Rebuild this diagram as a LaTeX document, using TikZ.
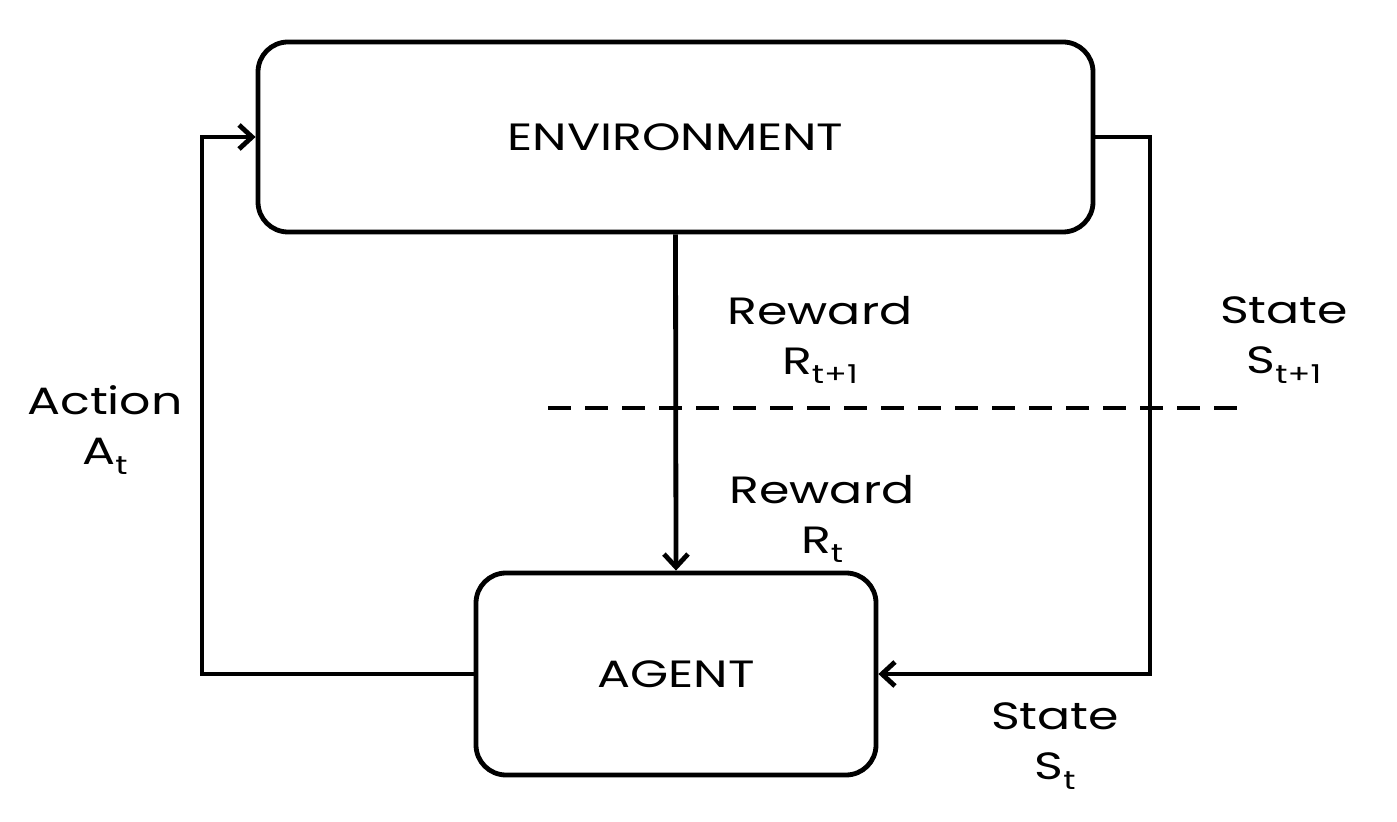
\documentclass[tikz,border=0pt]{standalone}
\usepackage{fontspec}
\setmainfont{Poppins}[FakeStretch=1.29]
\usetikzlibrary{arrows.meta}
\newcommand\lowsub[1]{\raisebox{-0.45ex}{\fontsize{13}{13}\selectfont #1}}
\begin{document}
\begin{tikzpicture}[x=0.5pt,y=-0.5pt, line width=2.4pt,
  box/.style={draw, rounded corners=15pt, inner sep=0pt, font=\fontsize{19}{24}\selectfont},
  lbl/.style={align=center, font=\fontsize{19}{25}\selectfont, inner sep=0pt},
  arr/.style={-{Straight Barb[length=6.5pt,width=12pt,line width=2.4pt]}},
  sep/.style={dash pattern=on 11.5pt off 7pt}
]
\useasboundingbox (0,0) rectangle (1397,822);
\node[box, minimum width=417.5pt, minimum height=95pt] (env) at (675.5,137) {ENVIRONMENT};
\node[box, minimum width=200pt, minimum height=101pt] (agent) at (676,674) {AGENT};
\coordinate (aL) at (202,674);
\coordinate (sR) at (1150,674);
\draw[arr] (agent.west) -- (aL) |- (env.west);
\draw[arr] (env.east) -| (sR) -- (agent.east);
\draw[arr] (env.south) -- (agent.north);
\coordinate (d1) at (548,408);
\coordinate (d2) at (1240,408);
\draw[sep] (d1) -- (d2);
\node[lbl] (r1) at (820,340) {Reward\\R\lowsub{t+1}};
\node[lbl] (r0) at (822,519) {Reward\\R\lowsub{t}};
\node[lbl] (s1) at (1284,340) {State\\S\lowsub{t+1}};
\node[lbl] (s0) at (1055,746) {State\\S\lowsub{t}};
\node[lbl] (a0) at (105,430) {Action\\A\lowsub{t}};
\end{tikzpicture}
\end{document}
